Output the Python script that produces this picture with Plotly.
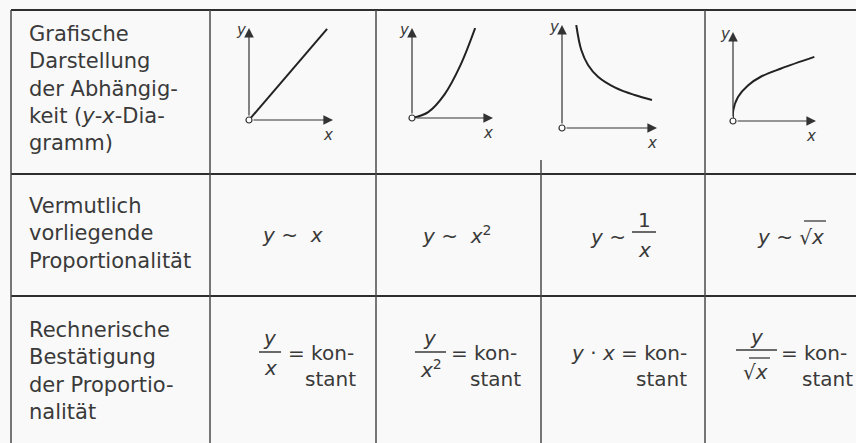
import plotly.graph_objects as go

W, H = 856, 443

# row headers (first column)
row_labels = [
    "Grafische<br>Darstellung<br>der Abhängig-<br>keit (<i>y</i>-<i>x</i>-Dia-<br>gramm)",
    "Vermutlich<br>vorliegende<br>Proportionalität",
    "Rechnerische<br>Bestätigung<br>der Proportio-<br>nalität",
]

# sketch curves (axis units 0..1)
lin_x = [0, 0.93]
lin_y = [0, 0.99]
quad_x = [0, 0.2, 0.4, 0.6, 0.78]
quad_y = [0, 0.066, 0.26, 0.59, 1.0]
inv_x = [0.150, 0.203, 0.274, 0.379, 0.555, 0.765, 0.947]
inv_y = [1.0, 0.757, 0.612, 0.498, 0.395, 0.32, 0.272]
sqrt_x = [0, 0.003, 0.06, 0.18, 0.34, 0.58, 0.98]
sqrt_y = [0, 0.12, 0.27, 0.40, 0.50, 0.59, 0.72]

curves = [(lin_x, lin_y), (quad_x, quad_y), (inv_x, inv_y), (sqrt_x, sqrt_y)]

# pixel boxes of the mini diagrams: origin x, origin y, x-arrow end, y-arrow top
boxes = [(249, 120, 333, 28), (412, 118, 493, 28),
         (562, 128, 657, 25), (733, 121, 816, 32)]

INK = "#333333"
TXT = "#3a3a3a"
FONT = "DejaVu Sans"

fig = go.Figure()
# invisible pixel-space axes for the table frame and texts
fig.add_trace(go.Scatter(x=[0, W], y=[0, H], mode="markers",
                         marker=dict(opacity=0), hoverinfo="skip",
                         showlegend=False))

annotations = []
shapes = []

for i, ((cx, cy), (ox, oy, xe, yt)) in enumerate(zip(curves, boxes)):
    n = i + 2
    xa, ya = f"x{n}", f"y{n}"
    fig.add_trace(go.Scatter(x=cx, y=cy, mode="lines", xaxis=xa, yaxis=ya,
                             line=dict(color="#222222", width=2, shape="spline"),
                             cliponaxis=False, showlegend=False))
    fig.add_trace(go.Scatter(x=[0], y=[0], mode="markers", xaxis=xa, yaxis=ya,
                             marker=dict(size=6, color="white",
                                         line=dict(color=INK, width=1.2)),
                             cliponaxis=False, showlegend=False))
    fig.layout[f"xaxis{n}"] = dict(domain=[ox / W, xe / W], range=[0, 1],
                                   visible=False, anchor=ya)
    fig.layout[f"yaxis{n}"] = dict(domain=[1 - oy / H, 1 - yt / H], range=[0, 1],
                                   visible=False, anchor=xa)
    # axis arrows
    for tx, ty in [(1, 0), (0, 1)]:
        annotations.append(dict(xref=xa, yref=ya, x=tx, y=ty, ax=0, ay=0,
                                axref=xa, ayref=ya, text="", showarrow=True,
                                arrowhead=2, arrowsize=1.6, arrowwidth=1.2,
                                arrowcolor=INK, standoff=0, startstandoff=3))
    annotations.append(dict(xref="x", yref="y", x=ox - 8, y=yt + 2, text="<i>y</i>",
                            showarrow=False, font=dict(size=15, color=TXT, family=FONT)))
    annotations.append(dict(xref="x", yref="y", x=xe - 5, y=oy + 15, text="<i>x</i>",
                            showarrow=False, font=dict(size=15, color=TXT, family=FONT)))

# row header texts
for lab, yc in zip(row_labels, [88, 233, 371]):
    annotations.append(dict(xref="x", yref="y", x=27, y=yc, text=lab,
                            xanchor="left", yanchor="middle", align="left",
                            showarrow=False,
                            font=dict(size=21, color=TXT, family=FONT)))

S = "\u00a0"


def txt(x, y, t, anchor="center", size=20):
    annotations.append(dict(xref="x", yref="y", x=x, y=y, text=t,
                            xanchor=anchor, yanchor="middle", showarrow=False,
                            font=dict(size=size, color=TXT, family=FONT)))


def bar(x0, x1, y, w=1.5):
    shapes.append(dict(type="line", xref="x", yref="y", x0=x0, x1=x1, y0=y, y1=y,
                       line=dict(color=TXT, width=w)))


# row 2: proportionalities
txt(292, 235, f"<i>y</i>{S}~{S}{S}<i>x</i>")
txt(456, 235, f"<i>y</i>{S}~{S}{S}<i>x</i><sup>2</sup>")
txt(628, 237, f"<i>y</i>{S}~", anchor="right")
txt(644, 220, "1")
bar(632, 656, 232)
txt(644, 250, "<i>x</i>")
txt(790, 237, f"<i>y</i>{S}~{S}√<i>x</i>")
bar(804, 826, 221, 1.3)

# row 3: checks
txt(270, 338, "<i>y</i>")
bar(259, 281, 352)
txt(270, 368, "<i>x</i>")
txt(286, 353, f"={S}kon-", anchor="left")
txt(358, 379, "stant", anchor="right")

txt(430, 338, "<i>y</i>")
bar(415, 446, 352)
txt(431, 369, "<i>x</i><sup>2</sup>")
txt(449, 353, f"={S}kon-", anchor="left")
txt(523, 379, "stant", anchor="right")

txt(689, 353, f"<i>y</i>{S}·{S}<i>x</i>{S}={S}kon-", anchor="right")
txt(689, 379, "stant", anchor="right")

txt(757, 337, "<i>y</i>")
bar(736, 777, 350)
txt(755, 372, "√<i>x</i>")
bar(749, 770, 358, 1.3)
txt(779, 353, f"={S}kon-", anchor="left")
txt(855, 379, "stant", anchor="right")

# table frame
frame = dict(color="#2e2e2e", width=2)
thin = dict(color="#4a4a4a", width=1.5)
shapes.append(dict(type="line", xref="x", yref="y", x0=11, x1=W, y0=10, y1=10, line=frame))
for yy in [174, 296]:
    shapes.append(dict(type="line", xref="x", yref="y", x0=11, x1=W, y0=yy, y1=yy, line=frame))
shapes.append(dict(type="line", xref="x", yref="y", x0=11, x1=11, y0=10, y1=H, line=thin))
for xx, y0 in [(210, 10), (376, 10), (541, 160), (705, 10)]:
    shapes.append(dict(type="line", xref="x", yref="y", x0=xx, x1=xx, y0=y0, y1=H, line=thin))

fig.update_layout(
    width=W, height=H,
    margin=dict(l=0, r=0, t=0, b=0),
    paper_bgcolor="#f9f9f9", plot_bgcolor="#f9f9f9",
    xaxis=dict(range=[0, W], domain=[0, 1], visible=False, fixedrange=True),
    yaxis=dict(range=[H, 0], domain=[0, 1], visible=False, fixedrange=True),
    annotations=annotations, shapes=shapes,
    showlegend=False,
)

fig.write_html("out.html", config={"displayModeBar": False},
               post_script="document.body.style.margin='0';")
